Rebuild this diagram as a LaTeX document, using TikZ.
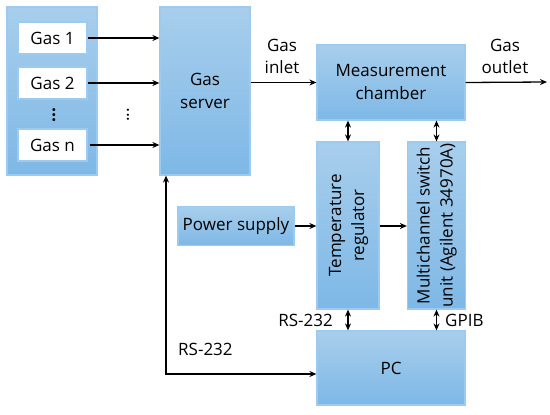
\documentclass[tikz,border=0pt]{standalone}
\usepackage{fontspec}
\setmainfont{Open Sans}
\usetikzlibrary{arrows.meta}
\definecolor{boxtop}{HTML}{A8CEEC}
\definecolor{boxbot}{HTML}{7EB8E6}
\definecolor{boxline}{HTML}{9CCBEF}
\begin{document}
\begin{tikzpicture}[x=1pt,y=-1pt,
  blk/.style={draw=boxline,line width=1.2pt,top color=boxtop,bottom color=boxbot,inner sep=0pt,align=center,font=\fontsize{17}{23}\selectfont},
  wbox/.style={draw=boxline,line width=1.2pt,fill=white,inner sep=0pt,font=\fontsize{17}{23}\selectfont},
  con/.style={line width=1.3pt,-{Stealth[length=7pt,width=6pt]}},
  bicon/.style={line width=1.3pt,{Stealth[length=7pt,width=6pt]}-{Stealth[length=7pt,width=6pt]}},
  lbl/.style={font=\fontsize{17}{22}\selectfont,align=center,inner sep=0pt}]
\useasboundingbox (0,0) rectangle (550,415);
% boxes
\node[blk,minimum width=90pt,minimum height=168pt] (src) at (52,91) {};
\node[wbox,minimum width=69pt,minimum height=32pt] (g1) at (52.5,38) {Gas 1};
\node[wbox,minimum width=69pt,minimum height=32pt] (g2) at (52.5,83) {Gas 2};
\node[wbox,minimum width=69pt,minimum height=32pt] (gn) at (52.5,145) {Gas n};
\node[lbl] (d1) at (54,115) {\bfseries\rotatebox{90}{...}};
\node[lbl] (d2) at (128,115) {\rotatebox{90}{...}};
\node[blk,minimum width=90pt,minimum height=168pt] (srv) at (205,91) {Gas\\server};
\node[blk,minimum width=148pt,minimum height=75pt] (mc) at (391,82.5) {Measurement\\chamber};
\node[blk,minimum width=62pt,minimum height=167pt] (tr) at (348,225.5) {\rotatebox{90}{\begin{tabular}{@{}c@{}}Temperature\\regulator\end{tabular}}};
\node[blk,minimum width=58pt,minimum height=167pt] (ms) at (436.5,225.5) {\rotatebox{90}{\begin{tabular}{@{}c@{}}Multichannel switch\\unit (Agilent 34970A)\end{tabular}}};
\node[blk,minimum width=116pt,minimum height=39pt] (ps) at (236,226) {Power supply};
\node[blk,minimum width=148pt,minimum height=74pt] (pc) at (391,368) {PC};
\coordinate (out) at (547,82);
\coordinate (corner) at (166,374);
% labels
\node[lbl] (lin) at (282,56) {Gas\\inlet};
\node[lbl] (lout) at (505,56) {Gas\\outlet};
\node[lbl,anchor=east] (rs1) at (333,320) {RS-232};
\node[lbl,anchor=west] (gpib) at (445,320) {GPIB};
\node[lbl,anchor=west] (rs2) at (178,349) {RS-232};
% connectors
\draw[con] (g1.east) -- (srv.west |- g1.east);
\draw[con] (g2.east) -- (srv.west |- g2.east);
\draw[con] ([xshift=2pt]gn.east) -- (srv.west |- gn.east);
\draw[con] (srv.east |- mc.west) -- (mc.west);
\draw[con] (mc.east) -- (out);
\draw[bicon] (mc.south -| tr) -- (tr.north);
\draw[bicon] (mc.south -| ms) -- (ms.north);
\draw[con] (ps.east) -- (tr.west |- ps.east);
\draw[con] (tr.east |- ps.east) -- (ms.west |- ps.east);
\draw[bicon] (tr.south) -- (pc.north -| tr);
\draw[bicon] (ms.south) -- (pc.north -| ms);
\draw[bicon] (srv.south -| corner) -- (corner) -- (pc.west |- corner);
\end{tikzpicture}
\end{document}
